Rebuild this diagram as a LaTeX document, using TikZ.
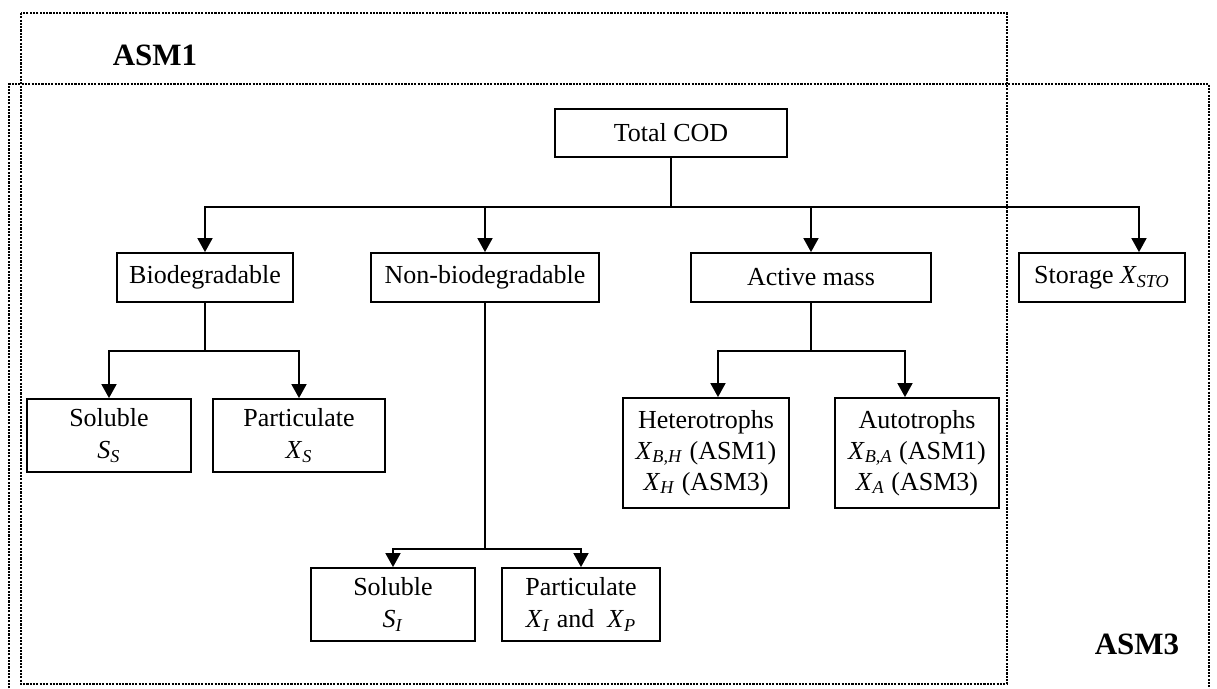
\documentclass[tikz,border=0pt]{standalone}
\usepackage{fontspec}
\setmainfont{Liberation Serif}
\usetikzlibrary{arrows.meta}
% italic variable with italic subscript
\newcommand{\sym}[2]{\textit{#1}\textsubscript{\textit{#2}}}

\begin{document}
\begin{tikzpicture}[x=0.5pt,y=-0.5pt,
  every node/.style={font=\fontsize{13}{16}\selectfont},
  box/.style={draw, line width=0.9pt, inner sep=0pt, align=center},
  link/.style={line width=0.9pt},
  arr/.style={link, -{Triangle[width=7.5pt,length=7pt]}},
  zone/.style={line width=1.1pt, dash pattern=on 1.05pt off 0.6pt},
  zonelabel/.style={font=\fontsize{15.5}{18}\selectfont\bfseries}]

\useasboundingbox (0,0) rectangle (1217,689);

% model scope frames
\draw[zone] (21,13) rectangle (1007,684);
\draw[zone] (9,695) -- (9,84) -- (1209,84) -- (1209,695);
\node[zonelabel] (asm1) at (155,55) {ASM1};
\node[zonelabel] (asm3) at (1137,644) {ASM3};

% COD fractions
\node[box, minimum width=116pt, minimum height=24pt] (total) at (671,133) {Total COD};

\node[box, minimum width=88pt, minimum height=24.5pt] (bio) at (205,277.5) {Biodegradable};
\node[box, minimum width=114pt, minimum height=24.5pt] (nonbio) at (485,277.5) {Non-biodegradable};
\node[box, minimum width=120pt, minimum height=24.5pt] (active) at (811,277.5) {Active mass};
\node[box, minimum width=83pt, minimum height=24.5pt] (storage) at (1102,277.5) {Storage \sym{X}{STO}};

\node[box, minimum width=82pt, minimum height=36.5pt] (solS) at (109,435.5) {Soluble\\\sym{S}{S}};
\node[box, minimum width=86pt, minimum height=36.5pt] (partS) at (299,435.5) {Particulate\\\sym{X}{S}};

\node[box, minimum width=83pt, minimum height=55pt, font=\fontsize{13}{15.5}\selectfont] (het) at (706,453)
  {Heterotrophs\\\sym{X}{B,H} (ASM1)\\\sym{X}{H} (ASM3)};
\node[box, minimum width=82pt, minimum height=55pt, font=\fontsize{13}{15.5}\selectfont] (aut) at (917,453)
  {Autotrophs\\\sym{X}{B,A} (ASM1)\\\sym{X}{A} (ASM3)};

\node[box, minimum width=82pt, minimum height=36.5pt] (solI) at (393,604.5) {Soluble\\\sym{S}{I}};
\node[box, minimum width=79pt, minimum height=36.5pt] (partI) at (581,604.5) {Particulate\\\sym{X}{I} and\ \ \sym{X}{P}};

% tree connectors
\draw[link] (total.south) -- ++(0,49) coordinate (bus);
\draw[arr] (bus) -| (bio.north);
\draw[arr] (bus) -| (nonbio.north);
\draw[arr] (bus) -| (active.north);
\draw[arr] (bus) -| ([xshift=18.5pt]storage.north);

\draw[link] (bio.south) -- ++(0,48) coordinate (biobus);
\draw[arr] (biobus) -| (solS.north);
\draw[arr] (biobus) -| (partS.north);

\draw[link] (active.south) -- ++(0,48) coordinate (actbus);
\draw[arr] (actbus) -| ([xshift=6pt]het.north);
\draw[arr] (actbus) -| ([xshift=-6pt]aut.north);

\draw[link] (nonbio.south) -- ++(0,246) coordinate (nbbus);
\draw[arr] (nbbus) -| (solI.north);
\draw[arr] (nbbus) -| (partI.north);
\end{tikzpicture}
\end{document}
